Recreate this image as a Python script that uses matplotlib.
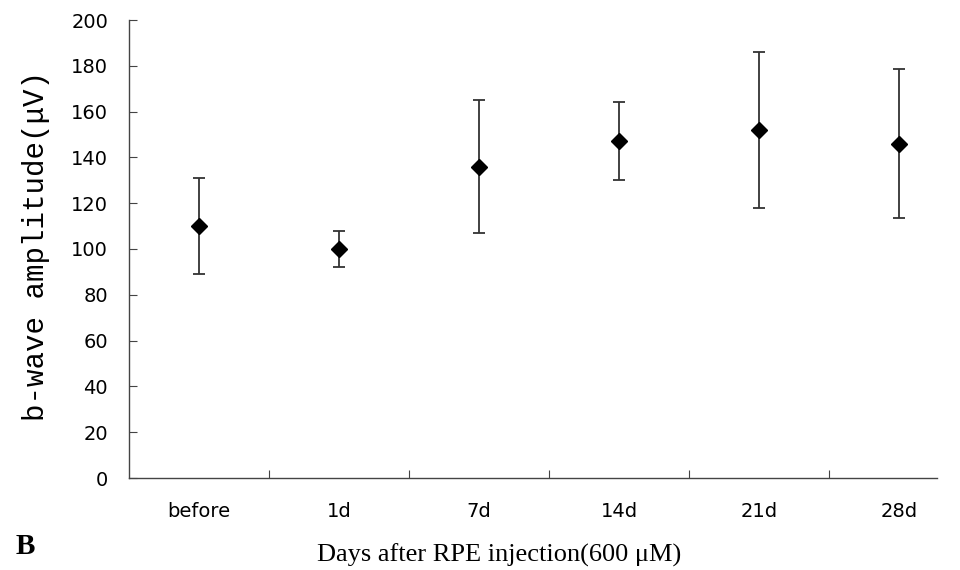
import matplotlib
matplotlib.use("Agg")
import matplotlib.pyplot as plt

categories = ["before", "1d", "7d", "14d", "21d", "28d"]
means = [110, 100, 136, 147, 152, 146]
errors = [21, 7.7, 29, 17, 34, 32.5]
yticks = [0, 20, 40, 60, 80, 100, 120, 140, 160, 180, 200]

fig = plt.figure(figsize=(9.6, 5.7), dpi=100)
ax = fig.add_axes([129/960, 1-478/570, (937-129)/960, 458/570])

x = list(range(len(categories)))
ax.errorbar(x, means, yerr=errors, fmt="D", color="black", markersize=8,
            ecolor="#333333", elinewidth=1.3, capsize=4, capthick=1.3)

ax.set_xlim(-0.5, 5.27)
ax.set_ylim(0, 200)
ax.set_yticks(yticks)
ax.set_yticklabels([str(v) for v in yticks], fontsize=14, family="DejaVu Sans")
ax.tick_params(axis="y", direction="in", length=6, width=0.8, color="#444444", pad=15)
ax.set_xticks([i + 0.5 for i in range(len(categories) - 1)], minor=False)
ax.set_xticklabels([])
ax.set_xticks(x, minor=True)
ax.set_xticklabels(categories, minor=True, fontsize=14, family="DejaVu Sans")
ax.tick_params(axis="x", which="major", direction="in", length=6, width=0.8, color="#444444")
ax.tick_params(axis="x", which="minor", length=0, pad=17)

for s in ["top", "right"]:
    ax.spines[s].set_visible(False)
for s in ["left", "bottom"]:
    ax.spines[s].set_color("#444444")
    ax.spines[s].set_linewidth(1.0)

fig.text(36/960, 1-246/570, "b-wave amplitude(μV)", rotation=90, ha="center", va="center",
         fontsize=21, family=["Liberation Mono", "DejaVu Sans Mono"])
fig.text(499/960, 1-562/570, "Days after RPE injection(600 μM)", ha="center", va="baseline",
         fontsize=19, family="Liberation Serif")
fig.text(16/960, 1-554/570, "B", ha="left", va="baseline", fontsize=21, fontweight="bold",
         family="Liberation Serif")

fig.savefig("out.png", dpi=100)
